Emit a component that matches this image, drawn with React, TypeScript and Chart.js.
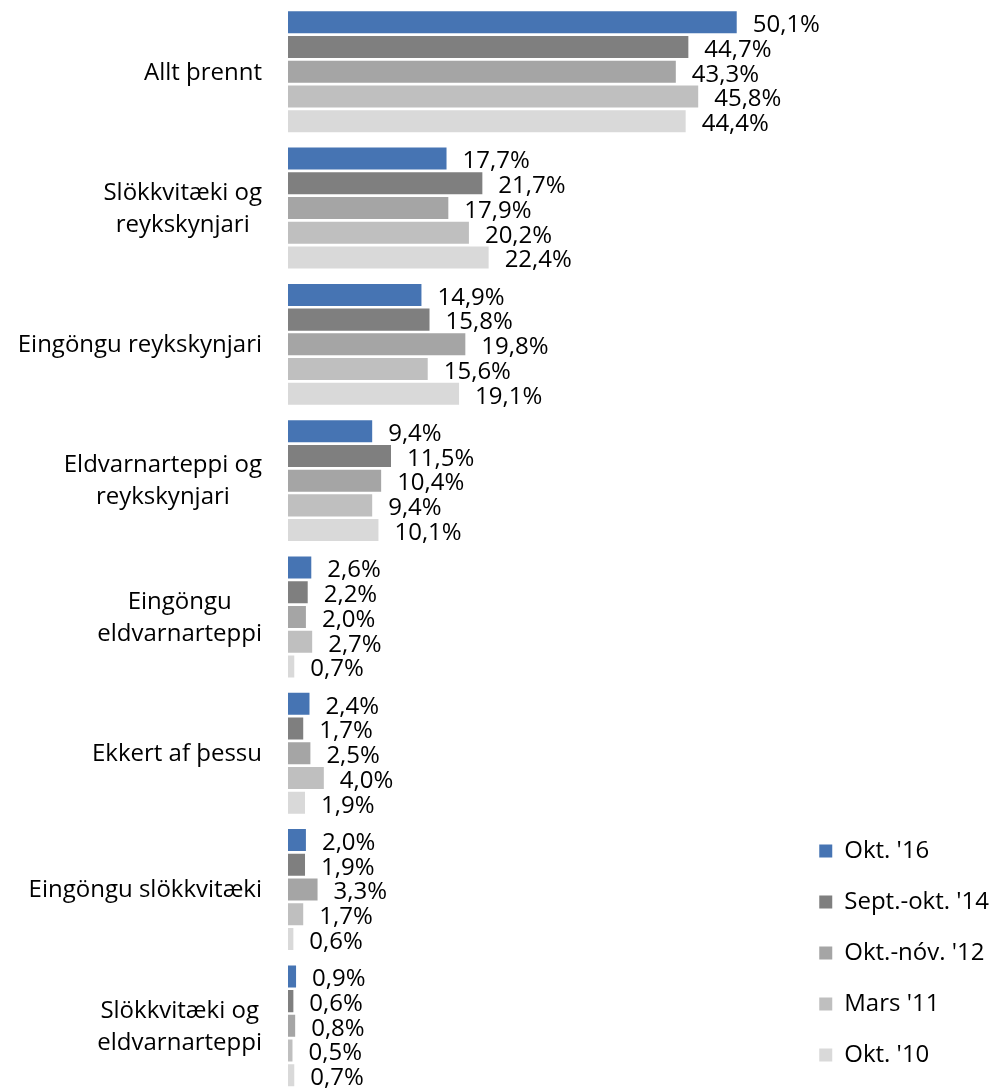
import React, { useEffect, useRef } from 'react';
import { Chart, registerables } from 'chart.js';

Chart.register(...registerables);

// Category labels (each entry is the list of wrapped lines)
const categories: string[][] = [
  ['Allt þrennt'],
  ['Slökkvitæki og', 'reykskynjari'],
  ['Eingöngu reykskynjari'],
  ['Eldvarnarteppi og', 'reykskynjari'],
  ['Eingöngu', 'eldvarnarteppi'],
  ['Ekkert af þessu'],
  ['Eingöngu slökkvitæki'],
  ['Slökkvitæki og', 'eldvarnarteppi'],
];

const seriesNames = ["Okt. '16", "Sept.-okt. '14", "Okt.-nóv. '12", "Mars '11", "Okt. '10"];

const okt16 = [50.1, 17.7, 14.9, 9.4, 2.6, 2.4, 2.0, 0.9];
const sept14 = [44.7, 21.7, 15.8, 11.5, 2.2, 1.7, 1.9, 0.6];
const okt12 = [43.3, 17.9, 19.8, 10.4, 2.0, 2.5, 3.3, 0.8];
const mars11 = [45.8, 20.2, 15.6, 9.4, 2.7, 4.0, 1.7, 0.5];
const okt10 = [44.4, 22.4, 19.1, 10.1, 0.7, 1.9, 0.6, 0.7];

const seriesValues = [okt16, sept14, okt12, mars11, okt10];
const seriesColors = ['#4674B3', '#7F7F7F', '#A5A5A5', '#BFBFBF', '#D9D9D9'];

const FONT_FAMILY = '"Open Sans", sans-serif';
const FONT_SIZE = 24;

const fmt = (v: number) => v.toFixed(1).replace('.', ',') + '%';

export default function App() {
  const ref = useRef<HTMLCanvasElement>(null);

  useEffect(() => {
    if (!ref.current) return;

    const valueLabels = {
      id: 'valueLabels',
      afterDatasetsDraw(chart: any) {
        const ctx = chart.ctx;
        ctx.save();
        ctx.font = `${FONT_SIZE}px ${FONT_FAMILY}`;
        ctx.fillStyle = '#000';
        ctx.textAlign = 'left';
        ctx.textBaseline = 'middle';
        chart.data.datasets.forEach((ds: any, di: number) => {
          const meta = chart.getDatasetMeta(di);
          meta.data.forEach((bar: any, i: number) => {
            ctx.fillText(fmt(ds.data[i]), bar.x + 16, bar.y + 3);
          });
        });
        ctx.restore();
      },
    };

    const categoryLabels = {
      id: 'categoryLabels',
      afterDraw(chart: any) {
        const yScale = chart.scales.y;
        const ctx = chart.ctx;
        const right = chart.chartArea.left - 26;
        ctx.save();
        ctx.font = `${FONT_SIZE}px ${FONT_FAMILY}`;
        ctx.fillStyle = '#000';
        ctx.textAlign = 'center';
        ctx.textBaseline = 'middle';
        categories.forEach((lines, i) => {
          const cy = yScale.getPixelForValue(i);
          const w = Math.max(...lines.map((l) => ctx.measureText(l).width));
          const cx = right - w / 2;
          lines.forEach((l, k) => {
            ctx.fillText(l, cx, cy + (k - (lines.length - 1) / 2) * 32 + 1);
          });
        });
        ctx.restore();
      },
    };

    const chart = new Chart(ref.current, {
      type: 'bar',
      data: {
        labels: categories.map((l) => l.join(' ')),
        datasets: seriesNames.map((name, i) => ({
          label: name,
          data: seriesValues[i],
          backgroundColor: seriesColors[i],
          borderWidth: 0,
          categoryPercentage: 0.907,
          barPercentage: 0.89,
        })),
      },
      options: {
        indexAxis: 'y',
        animation: false,
        responsive: false,
        layout: { padding: { left: 288, top: 3.6, bottom: 0, right: 0 } },
        scales: {
          x: { display: false, min: 0, max: 56.3 },
          y: { display: false },
        },
        plugins: {
          legend: {
            position: 'right',
            align: 'end',
            labels: {
              boxWidth: 13,
              boxHeight: 13,
              padding: 27,
              color: '#000',
              font: { family: FONT_FAMILY, size: FONT_SIZE },
            },
          },
          tooltip: { enabled: false },
        },
      },
      plugins: [valueLabels, categoryLabels],
    } as any);

    return () => chart.destroy();
  }, []);

  return (
    <canvas
      ref={ref}
      width={999}
      height={1094}
      style={{ position: 'fixed', left: 0, top: 0, width: 999, height: 1094 }}
    />
  );
}
